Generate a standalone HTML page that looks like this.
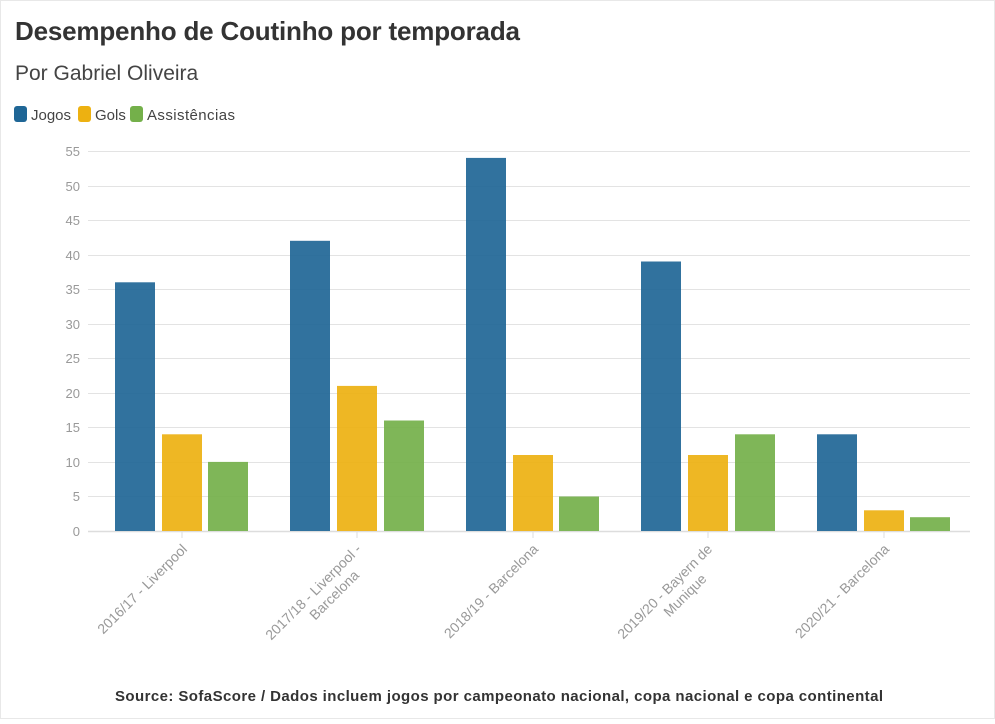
<!DOCTYPE html>
<html><head><meta charset="utf-8"><style>
body{margin:0;background:#fff;width:995px;height:719px;overflow:hidden;font-family:"Liberation Sans",sans-serif}
</style></head><body>
<svg width="995" height="719" xmlns="http://www.w3.org/2000/svg" font-family="Liberation Sans, sans-serif">
<rect x="0.5" y="0.5" width="994" height="718" fill="#fff" stroke="#e8e8e8"/>
<text x="15" y="40" font-size="26" font-weight="bold" fill="#333" textLength="505">Desempenho de Coutinho por temporada</text>
<text x="15" y="80" font-size="21" fill="#444">Por Gabriel Oliveira</text>
<rect x="14" y="106" width="13" height="16" rx="3" fill="#1f6696"/>
<text x="31" y="120" font-size="15" fill="#444">Jogos</text>
<rect x="78" y="106" width="13" height="16" rx="3" fill="#edb111"/>
<text x="95" y="120" font-size="15" fill="#444">Gols</text>
<rect x="130" y="106" width="13" height="16" rx="3" fill="#74b04a"/>
<text x="147" y="120" font-size="15" fill="#444" textLength="88">Assistências</text>
<g stroke="#e3e3e3" stroke-width="1">
<line x1="88" x2="970" y1="151.5" y2="151.5"/><line x1="88" x2="970" y1="186.5" y2="186.5"/>
<line x1="88" x2="970" y1="220.5" y2="220.5"/><line x1="88" x2="970" y1="255.5" y2="255.5"/>
<line x1="88" x2="970" y1="289.5" y2="289.5"/><line x1="88" x2="970" y1="324.5" y2="324.5"/>
<line x1="88" x2="970" y1="358.5" y2="358.5"/><line x1="88" x2="970" y1="393.5" y2="393.5"/>
<line x1="88" x2="970" y1="427.5" y2="427.5"/><line x1="88" x2="970" y1="462.5" y2="462.5"/>
<line x1="88" x2="970" y1="496.5" y2="496.5"/>
</g>
<line x1="88" x2="970" y1="531.5" y2="531.5" stroke="#ddd" stroke-width="1.5"/>
<g font-size="13" fill="#999" text-anchor="end">
<text x="80" y="156">55</text><text x="80" y="191">50</text><text x="80" y="225">45</text><text x="80" y="260">40</text>
<text x="80" y="294">35</text><text x="80" y="329">30</text><text x="80" y="363">25</text><text x="80" y="398">20</text>
<text x="80" y="432">15</text><text x="80" y="467">10</text><text x="80" y="501">5</text><text x="80" y="536">0</text>
</g>
<g fill="#1f6696" opacity="0.92">
<rect x="115" y="282.3" width="40" height="248.7"/>
<rect x="290" y="240.8" width="40" height="290.2"/>
<rect x="466" y="157.9" width="40" height="373.1"/>
<rect x="641" y="261.5" width="40" height="269.5"/>
<rect x="817" y="434.3" width="40" height="96.7"/>
</g>
<g fill="#edb111" opacity="0.92">
<rect x="162" y="434.3" width="40" height="96.7"/>
<rect x="337" y="385.9" width="40" height="145.1"/>
<rect x="513" y="455" width="40" height="76"/>
<rect x="688" y="455" width="40" height="76"/>
<rect x="864" y="510.3" width="40" height="20.7"/>
</g>
<g fill="#74b04a" opacity="0.92">
<rect x="208" y="461.9" width="40" height="69.1"/>
<rect x="384" y="420.5" width="40" height="110.5"/>
<rect x="559" y="496.5" width="40" height="34.5"/>
<rect x="735" y="434.3" width="40" height="96.7"/>
<rect x="910" y="517.2" width="40" height="13.8"/>
</g>
<g stroke="#ddd"><line x1="182" x2="182" y1="532" y2="538"/><line x1="357" x2="357" y1="532" y2="538"/><line x1="533" x2="533" y1="532" y2="538"/><line x1="708" x2="708" y1="532" y2="538"/><line x1="884" x2="884" y1="532" y2="538"/></g>
<g font-size="14" fill="#999" text-anchor="end">
<text transform="translate(188,550) rotate(-45)">2016/17 - Liverpool</text>
<text transform="translate(362,550) rotate(-45)"><tspan x="0" y="0">2017/18 - Liverpool -</tspan><tspan x="-20" y="17">Barcelona</tspan></text>
<text transform="translate(539,550) rotate(-45)">2018/19 - Barcelona</text>
<text transform="translate(713,550) rotate(-45)"><tspan x="0" y="0">2019/20 - Bayern de</tspan><tspan x="-25" y="17">Munique</tspan></text>
<text transform="translate(890,550) rotate(-45)">2020/21 - Barcelona</text>
</g>
<text x="115" y="701" font-size="15" font-weight="bold" fill="#333" textLength="768">Source: SofaScore / Dados incluem jogos por campeonato nacional, copa nacional e copa continental</text>
</svg>
</body></html>
